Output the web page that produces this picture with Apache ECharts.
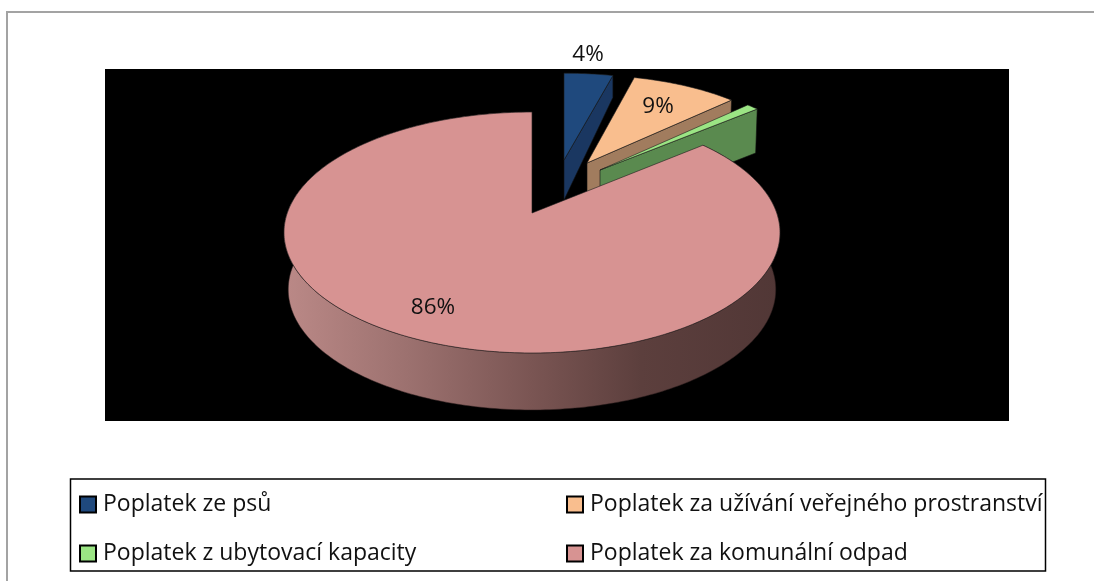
<!DOCTYPE html>
<html>
<head>
<meta charset="utf-8">
<title>Poplatky</title>
<script src="https://cdn.jsdelivr.net/npm/echarts@6/dist/echarts.min.js"></script>
<style>
html,body{margin:0;padding:0;background:#fff;}
#chart{width:1094px;height:581px;}
</style>
</head>
<body>
<div id="chart"></div>
<script>
var categories = ['Poplatek ze psů','Poplatek za užívání veřejného prostranství','Poplatek z ubytovací kapacity','Poplatek za komunální odpad'];
var values = [4,9,1,86];
var valueLabels = ['4%','9%','','86%'];

var topColors = ['#1f497d','#f9be8e','#9be584','#d79392'];
var wallColors = ['#1a3761','#a17c5e','#5a8a4f',null];

// tvar perspektivy horni plochy
var persp = {a:244.7,b:117.3,k:0.162};
// vysunuti jednotlivych vysecu: stred, meritko, vyska steny
var slices = [
    {cx:564,cy:160,sx:0.93,sy:0.86,h0:40,hs:0.214,xs:1,lx:588,ly:55},
    {cx:587,cy:163,sx:0.9,sy:0.87,h0:44,hs:0,xs:0.99,lx:658,ly:107},
    {cx:600,cy:170,sx:0.92,sy:0.9,h0:44,hs:0,xs:0.99,lx:0,ly:0},
    {cx:532,cy:213,sx:1,sy:1,h0:57,hs:0,xs:0.983,lx:433,ly:308}
];
var legendPos = [[79,493],[566,493],[79,542],[566,542]];
var fontName = '"Open Sans"';

var total = 0;
for (var i = 0; i < values.length; i++) {
    total += values[i];
}

function rimPoint(s,deg){
    var t = deg*Math.PI/180;
    var X = Math.sin(t), Y = -Math.cos(t);
    var w = 1-persp.k*Y;
    return [s.cx+s.sx*persp.a*X/w, s.cy+s.sy*persp.b*Y/w];
}
function lower(s,p){
    return [s.cx+(p[0]-s.cx)*s.xs, p[1]+s.h0+s.hs*(p[1]-s.cy)];
}

function renderSlice(idx){
    return function(params,api){
        var before = 0;
        for (var j = 0; j < idx; j++) {
            before += values[j];
        }
        var start = before/total*360;
        var end = (before+api.value(0))/total*360;
        var s = slices[idx];
        var rim = [];
        for (var d = start; d < end; d += 1) {
            rim.push(rimPoint(s,d));
        }
        rim.push(rimPoint(s,end));
        var apex = [s.cx,s.cy];
        var children = [];

        if(idx == 3){//velky vysec ma stenu po obvodu
            var wall = rim.slice();
            for (var r = rim.length-1; r >= 0; r--) {
                wall.push(lower(s,rim[r]));
            }
            children.push({
                type:'polygon',
                shape:{points:wall},
                style:{
                    fill:new echarts.graphic.LinearGradient(0,0,1,0,[
                        {offset:0,color:'#bb8987'},
                        {offset:0.25,color:'#9c716f'},
                        {offset:0.5,color:'#7a5553'},
                        {offset:0.72,color:'#5c3f3d'},
                        {offset:1,color:'#513736'}
                    ]),
                    stroke:'#2a1c1c',
                    lineWidth:0.5
                }
            });
        }else{
            var last = rim[rim.length-1];
            children.push({
                type:'polygon',
                shape:{points:[apex,last,lower(s,last),lower(s,apex)]},
                style:{fill:wallColors[idx],stroke:'#111',lineWidth:0.6}
            });
        }
        children.push({
            type:'polygon',
            shape:{points:[apex].concat(rim)},
            style:{fill:topColors[idx],stroke:'#1c1c1c',lineWidth:0.6}
        });
        if(valueLabels[idx] != ''){
            children.push({
                type:'text',
                z2:10,
                style:{
                    text:valueLabels[idx],
                    x:s.lx,
                    y:s.ly,
                    align:'center',
                    verticalAlign:'middle',
                    fill:'#111',
                    font:'22.5px '+fontName
                }
            });
        }
        return {type:'group',children:children};
    };
}

var seriesList = [];
var legends = [];
for (var i = 0; i < categories.length; i++) {
    seriesList.push({
        name:categories[i],
        type:'custom',
        coordinateSystem:'none',
        z:2+i,
        silent:true,
        itemStyle:{color:topColors[i]},
        renderItem:renderSlice(i),
        data:[[values[i]]]
    });
    legends.push({
        data:[categories[i]],
        left:legendPos[i][0],
        top:legendPos[i][1],
        padding:0,
        icon:'rect',
        itemWidth:16,
        itemHeight:16,
        selectedMode:false,
        itemStyle:{borderColor:'#000',borderWidth:2},
        textStyle:{
            color:'#111',
            fontFamily:fontName,
            fontSize:23,
            padding:[0,0,0,2]
        }
    });
}

var myChart = echarts.init(document.getElementById('chart'),null,{renderer:'canvas'});
myChart.setOption({
    animation:false,
    backgroundColor:'#fff',
    graphic:[
        {type:'polyline',z:0,shape:{points:[[7,581],[7,12],[1094,12]]},style:{fill:null,stroke:'#a3a3a3',lineWidth:2}},
        {type:'rect',z:1,shape:{x:105,y:69,width:904,height:352},style:{fill:'#000'}},
        {type:'rect',z:1,shape:{x:70.5,y:479,width:975,height:92},style:{fill:'#fff',stroke:'#000',lineWidth:1.5}}
    ],
    legend:legends,
    series:seriesList
});
</script>
</body>
</html>
